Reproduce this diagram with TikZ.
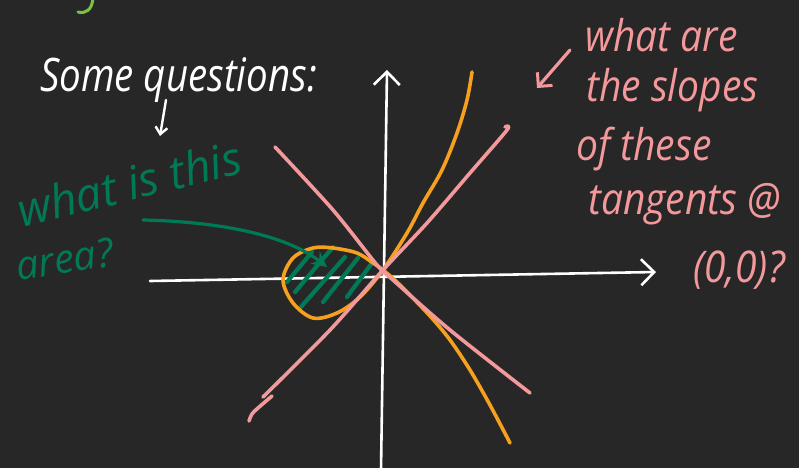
\documentclass[tikz,border=0pt]{standalone}
\usepackage{fontspec}
\setmainfont{Open Sans}
\usetikzlibrary{arrows.meta}
\definecolor{bg}{HTML}{272727}
\definecolor{pinkc}{HTML}{F4999B}
\definecolor{orangec}{HTML}{F5A01E}
\definecolor{greenc}{HTML}{007A56}
\definecolor{limec}{HTML}{79C142}
\begin{document}
\begin{tikzpicture}[x=1pt,y=-1pt,line cap=round,line join=round,
  axisline/.style={draw=white,line width=2.6pt,-{Straight Barb[length=13pt,width=26pt,line width=2.6pt]}},
  pinkline/.style={draw=pinkc,line width=3.6pt},
  orangeline/.style={draw=orangec,line width=3.6pt},
  hatchline/.style={draw=greenc,line width=4.2pt},
  whitetxt/.style={text=white,font=\fontsize{38.5}{42}\selectfont\itshape,inner sep=0pt,yscale=1.2},
  greentxt/.style={text=greenc,font=\fontsize{46}{50}\selectfont\itshape,inner sep=0pt},
  pinktxt/.style={text=pinkc,font=\fontsize{39}{42}\selectfont\itshape,inner sep=0pt,yscale=1.12}]
\fill[bg] (0,0) rectangle (799,468);
\useasboundingbox (0,0) rectangle (799,468);
\begin{scope}
\clip (0,0) rectangle (799,468);
% partial lime stroke at top
\draw[limec,line width=3pt] (93,-2) .. controls (92,10) and (86,14) .. (78,12);

% texts
\node[whitetxt,anchor=base west] (title) at (40,92) {Some questions:};
\node[greentxt,anchor=base west,rotate=14] (gq1) at (22,228) {what is this};
\node[greentxt,anchor=base west,rotate=9,font=\fontsize{40}{44}\selectfont\itshape] (gq2) at (18,281) {area?};
\node[pinktxt,anchor=base west] (p1) at (585,52) {what are};
\node[pinktxt,anchor=base west] (p2) at (586,102) {the slopes};
\node[pinktxt,anchor=base west] (p3) at (576,160) {of these};
\node[pinktxt,anchor=base west] (p4) at (588,214) {tangents @};
\node[pinktxt,anchor=base west] (p5) at (693,282) {(0,0)?};

% axes
\coordinate (xl) at (150,281);
\coordinate (xr) at (656,272);
\coordinate (yb) at (381,470);
\coordinate (yt) at (387,70);
\draw[axisline] (xl) -- (xr);
\draw[axisline] (yb) -- (yt);

% hatching
\draw[hatchline] (287,282) -- (312,252);
\draw[hatchline] (295,292) -- (333,247);
\draw[hatchline] (300,308) -- (345,257);
\draw[hatchline] (323,302) -- (358,258);
\draw[hatchline] (347,297) -- (372,263);

% orange curve
\draw[orangeline] plot[smooth,tension=0.55] coordinates {(472,72) (467,100) (457,133) (442,170) (423,203) (407,233) (383,270) (360,297) (337,313) (313,318) (293,303) (283,280) (293,258) (313,248) (333,248) (357,253) (373,263) (383,270) (400,285) (430,316) (450,340) (470,370) (490,405) (510,443)};

% pink tangents
\draw[pinkline] plot[smooth,tension=0.5] coordinates {(275,147) (333,210) (377,265) (393,280) (450,330) (530,393)};
\draw[pinkline] plot[smooth,tension=0.5] coordinates {(263,397) (330,330) (383,270) (427,223) (470,173) (507,130) (505,127)};
\draw[pinkline] plot[smooth,tension=0.6] coordinates {(249,421) (252,414) (258,408) (272,396)};

% arrows
\coordinate (qd) at (166,100);
\coordinate (qt) at (160,136);
\draw[white,line width=2.4pt,-{Straight Barb[length=7pt,width=12pt,line width=2.4pt]}] (qd) -- (qt);
\coordinate (ga) at (143,220);
\coordinate (gb) at (327,267);
\draw[greenc,line width=3.2pt,-{Stealth[length=15pt,width=15pt]}] (ga) .. controls (230,222) and (290,238) .. (gb);
\coordinate (pa) at (570,50);
\coordinate (pb) at (537,88);
\draw[pinkc,line width=3.2pt,-{Straight Barb[length=10pt,width=20pt,line width=3pt]}] (pa) -- (pb);
\end{scope}
\end{tikzpicture}
\end{document}
